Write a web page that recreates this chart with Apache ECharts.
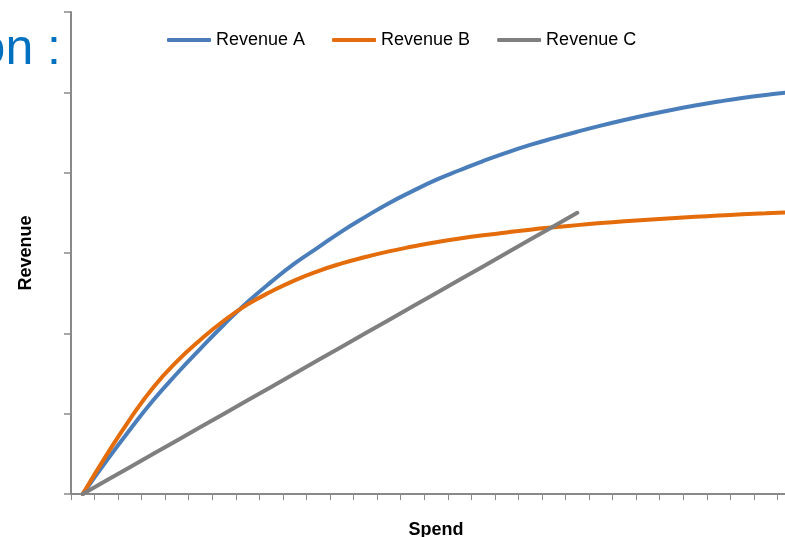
<!DOCTYPE html>
<html>
<head>
<meta charset="utf-8">
<script src="https://cdn.jsdelivr.net/npm/echarts@6/dist/echarts.min.js"></script>
<style>
  html, body { margin: 0; padding: 0; background: #ffffff; }
  #chart { width: 785px; height: 537px; }
</style>
</head>
<body>
<div id="chart"></div>
<script>
// Spend steps along the horizontal axis
const spendSteps = ['0','1','2','3','4','5','6','7','8','9','10','11','12','13','14','15',
  '16','17','18','19','20','21','22','23','24','25','26','27','28','29','30'];

// Revenue response for each spend step
const revenueA = [0, 41, 80, 117, 150, 181, 211, 239, 264, 287, 307, 327, 345, 362, 377, 391,
  403, 414.5, 425, 434.5, 443, 451, 458.5, 465.5, 472, 478, 483.5, 488.5, 493, 496.8, 500];
const revenueB = [0, 48, 93, 133, 165, 192, 216, 236, 252, 266, 277.5, 287, 295, 302, 308, 313.5,
  318, 322, 325.5, 329, 332, 334.7, 337.2, 339.5, 341.5, 343.3, 345, 346.6, 348.1, 349.4, 350.6];
const revenueC = [0, 16.7, 33.3, 50, 66.7, 83.3, 100, 116.7, 133.3, 150, 166.7, 183.3, 200,
  216.7, 233.3, 250, 266.7, 283.3, 300, 316.7, 333.3, 350];

const seriesNames = ['Revenue A', 'Revenue B', 'Revenue C'];
const seriesColors = ['#4A7EBB', '#E46C0A', '#7F7F7F'];

const axisGray = '#898989';
const font = '"Liberation Sans", Arial, sans-serif';

const chart = echarts.init(document.getElementById('chart'), null, { renderer: 'canvas' });

function lineSeries(name, data, color, smooth) {
  return {
    name: name,
    type: 'line',
    data: data,
    smooth: smooth,
    symbol: 'none',
    showSymbol: false,
    color: color,
    lineStyle: { color: color, width: 4, cap: 'round', join: 'round' },
    emphasis: { disabled: true },
    z: 3
  };
}

chart.setOption({
  animation: false,
  backgroundColor: '#ffffff',
  // the plot runs past the right edge of the canvas
  grid: { left: 71, top: 12, width: 730, height: 482, containLabel: false, outerBoundsMode: 'none' },
  legend: {
    data: seriesNames,
    left: 162,
    top: 26,
    icon: 'roundRect',
    itemWidth: 44,
    itemHeight: 4,
    itemGap: 27,
    textStyle: { fontFamily: font, fontSize: 18, color: '#000000' }
  },
  xAxis: {
    type: 'category',
    data: spendSteps,
    boundaryGap: true,
    name: 'Spend',
    nameLocation: 'middle',
    nameGap: 27,
    nameTextStyle: { fontFamily: font, fontSize: 18, fontWeight: 'bold', color: '#000000' },
    axisLine: { show: true, lineStyle: { color: axisGray, width: 2 } },
    axisTick: { show: true, inside: false, length: 6, interval: 0, lineStyle: { color: axisGray, width: 1 } },
    axisLabel: { show: false },
    splitLine: { show: false }
  },
  yAxis: {
    type: 'value',
    min: 0,
    max: 600,
    interval: 100,
    name: 'Revenue',
    nameLocation: 'middle',
    nameGap: 36,
    nameRotate: 90,
    nameTextStyle: { fontFamily: font, fontSize: 18, fontWeight: 'bold', color: '#000000' },
    axisLine: { show: true, lineStyle: { color: axisGray, width: 2 } },
    axisTick: { show: true, inside: false, length: 7, lineStyle: { color: axisGray, width: 1.5 } },
    axisLabel: { show: false },
    splitLine: { show: false }
  },
  graphic: [
    {
      type: 'text',
      style: {
        x: 61,
        y: 50,
        text: 'on :',
        font: '50px ' + font,
        fill: '#0070C0',
        textAlign: 'right',
        textVerticalAlign: 'middle'
      }
    }
  ],
  series: [
    lineSeries(seriesNames[0], revenueA, seriesColors[0], 0.5),
    lineSeries(seriesNames[1], revenueB, seriesColors[1], 0.5),
    lineSeries(seriesNames[2], revenueC, seriesColors[2], false)
  ]
});
</script>
</body>
</html>
